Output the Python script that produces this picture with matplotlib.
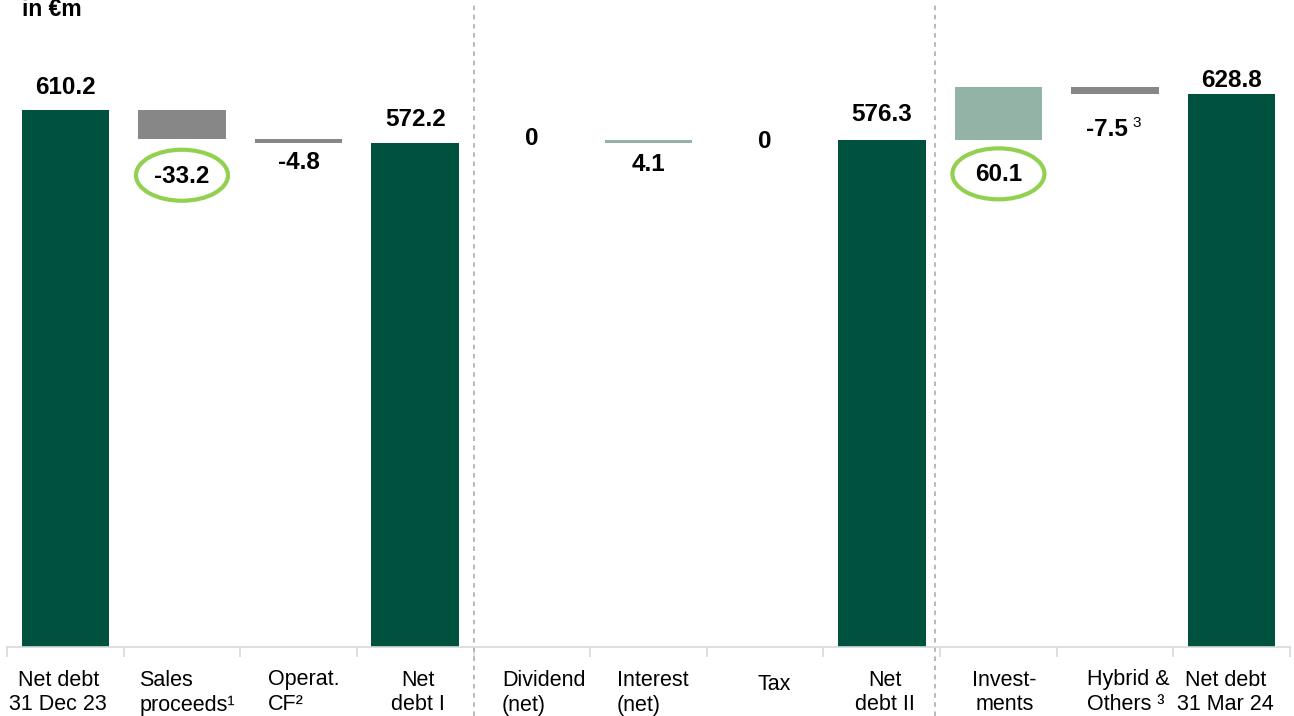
import matplotlib
matplotlib.use("Agg")
import matplotlib.pyplot as plt
import matplotlib.transforms as mtransforms
from matplotlib.patches import Ellipse

# ---------------- data ----------------
categories = ["Net debt\n31 Dec 23", "Sales\nproceeds¹", "Operat.\nCF²", "Net\ndebt I",
              "Dividend\n(net)", "Interest\n(net)", "Tax", "Net\ndebt II",
              "Invest-\nments", "Hybrid &\nOthers ³", "Net debt\n31 Mar 24"]
values = [610.2, -33.2, -4.8, 572.2, 0.0, 4.1, 0.0, 576.3, 60.1, -7.5, 628.8]
kinds = ["total", "delta", "delta", "total", "delta", "delta", "delta", "total",
         "delta", "delta", "total"]
value_labels = ["610.2", "-33.2", "-4.8", "572.2", "0", "4.1", "0", "576.3",
                "60.1", "-7.5", "628.8"]
circled = ["-33.2", "60.1"]
footnote_marks = {"-7.5": "3"}
unit_label = "in €m"

# ---------------- styles / positions ----------------
C_TOTAL = "#00523F"
C_NEG = "#878787"
C_POS = "#93B3A6"
C_ELL = "#92D050"
C_AXIS = "#D9D9D9"
C_DASH = "#A6A6A6"
FONT = "Liberation Sans"

# vertical offset of value labels (pixels, relative to anchor)
label_dy = [23, -37, -19, 24, 5, -21, -2, 25, -35, -36, 13]
label_dx = [0, 0, 0, 0, 0, 0, 0, 0, 0, -8, 0]
# tick label tweaks (pixels)
tick_dx = [-7, 5, 5, 3, 12, 4, 9, 3, 6, 13, -6]
tick_dy = [-45.5, -45.5, -45.5, -45.5, -45.5, -45.5, -37, -45.5, -45.5, -45.5, -45.5]
tick_align = ["center", "left", "left", "center", "left", "left", "center",
              "center", "center", "left", "center"]

W, H = 1294, 716
fig = plt.figure(figsize=(W / 100, H / 100), dpi=100)
ax_left, ax_right, ax_top, ax_base = 7, 1290, 0, 647
ax = fig.add_axes([ax_left / W, (H - ax_base) / H, (ax_right - ax_left) / W,
                   (ax_base - ax_top) / H])
px_per_unit = 0.88
ymax = (ax_base - ax_top) / px_per_unit
n = len(values)
ax.set_xlim(-0.5, n - 0.5)
ax.set_ylim(0, ymax)

# ---------------- waterfall ----------------
level = 0.0
anchors = []
for i, (v, k) in enumerate(zip(values, kinds)):
    if k == "total":
        ax.bar(i, v, width=0.75, bottom=0, color=C_TOTAL, linewidth=0)
        level = v
        anchors.append(v)
    else:
        new = level + v
        if v != 0:
            ax.bar(i, v, width=0.75, bottom=level,
                   color=C_NEG if v < 0 else C_POS, linewidth=0)
            anchors.append(min(level, new))
        else:
            anchors.append(level)
        level = new

for i, (lab, a) in enumerate(zip(value_labels, anchors)):
    ax.annotate(lab, xy=(i, a), xytext=(label_dx[i], label_dy[i]),
                textcoords="offset pixels", ha="center", va="center",
                fontsize=17.5, fontweight="bold", family=FONT, color="black")
    if lab in footnote_marks:
        ax.annotate(footnote_marks[lab], xy=(i, a),
                    xytext=(label_dx[i] + 30, label_dy[i] + 7),
                    textcoords="offset pixels", ha="center", va="center",
                    fontsize=11, family=FONT, color="black")
    if lab in circled:
        tr = mtransforms.offset_copy(ax.transData, fig=fig, x=0, y=label_dy[i] + 1,
                                     units="dots")
        ax.add_patch(Ellipse((i, a), width=92 / ((ax_right - ax_left) / n),
                             height=51 / px_per_unit, transform=tr,
                             fill=False, edgecolor=C_ELL, linewidth=3, clip_on=False))

# ---------------- category labels ----------------
for i, c in enumerate(categories):
    ax.annotate(c, xy=(i, 0), xycoords=("data", "axes fraction"),
                xytext=(tick_dx[i], tick_dy[i]), textcoords="offset pixels",
                ha="center", va="center", multialignment=tick_align[i],
                fontsize=15.5, family=FONT, color="black", linespacing=1.25,
                annotation_clip=False)

# ---------------- axes styling ----------------
for s in ["left", "right", "top"]:
    ax.spines[s].set_visible(False)
ax.spines["bottom"].set_color(C_AXIS)
ax.spines["bottom"].set_linewidth(1.2)
ax.set_xticks([b - 0.5 for b in range(n + 1)])
ax.tick_params(axis="x", length=7.5, width=1.2, color=C_AXIS, labelbottom=False,
               direction="out")
ax.set_yticks([])

# dashed separators
trans = mtransforms.blended_transform_factory(ax.transData, ax.transAxes)
for xb in [3.5, 7.46]:
    ax.plot([xb, xb], [-(H - ax_base) / (ax_base - ax_top), 0.992], transform=trans,
            color=C_DASH, linewidth=1.1, linestyle=(0, (3, 3)), clip_on=False)

fig.text(22 / W, 1 - 9 / H, unit_label, ha="left", va="center", fontsize=16.5,
         fontweight="bold", family=FONT)

fig.savefig("out.png", dpi=100)
